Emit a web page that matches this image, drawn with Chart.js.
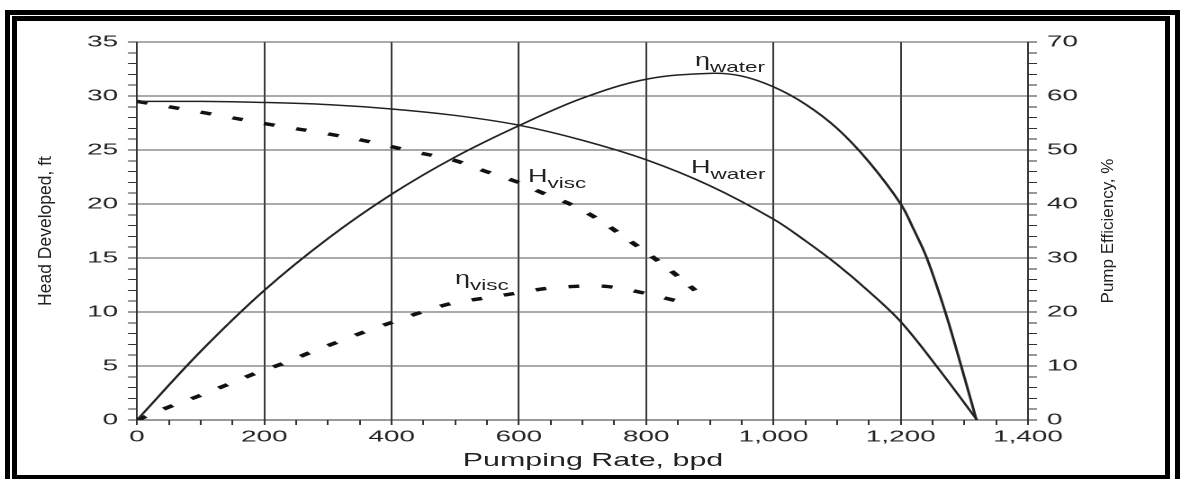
<!DOCTYPE html>
<html><head><meta charset="utf-8">
<script src="https://cdn.jsdelivr.net/npm/chart.js@4.4.1/dist/chart.umd.min.js"></script>
<style>
html,body{margin:0;padding:0;background:#fff;}
#wrap{position:relative;width:1181px;height:479px;overflow:hidden;background:#fff;font-family:"Liberation Sans",Arial,sans-serif;color:#222;}
#cbox{position:absolute;left:0;top:0;width:656px;height:479px;transform-origin:0 0;transform:scaleX(1.800305);}
.frame{position:absolute;border:5px solid #000;box-sizing:border-box;}
.title{position:absolute;white-space:nowrap;line-height:1;}
.lbl{position:absolute;white-space:nowrap;line-height:1;font-size:18px;transform-origin:0 0;transform:scaleX(1.5);}
.lbl .s{font-size:15px;vertical-align:-5.5px;}
</style></head>
<body><div id="wrap">
<div id="cbox"><canvas id="c" width="656" height="479" style="width:656px;height:479px"></canvas></div>
<div class="frame" style="left:5px;top:10px;width:1175px;height:490px"></div>
<div class="frame" style="left:12px;top:16px;width:1158px;height:464px"></div>
<div class="title" style="left:46px;top:231px;font-size:17.5px;transform:translate(-50%,-50%) rotate(-90deg)">Head Developed, ft</div>
<div class="title" style="left:1107px;top:230.5px;font-size:17px;transform:translate(-50%,-50%) rotate(-90deg)">Pump Efficiency, %</div>
<div class="title" style="left:593px;top:460px;font-size:18.5px;transform:translate(-50%,-50%) scaleX(1.645)">Pumping Rate, bpd</div>
<div class="lbl" style="left:695px;top:51px">η<span class="s">water</span></div>
<div class="lbl" style="left:690.5px;top:157.5px">H<span class="s">water</span></div>
<div class="lbl" style="left:528px;top:166.5px">H<span class="s">visc</span></div>
<div class="lbl" style="left:455px;top:269px">η<span class="s">visc</span></div>
</div>
<script>
const SX = 1181 / 656;

// Head, water (ft) vs pumping rate (bpd)
const hWaterRate = [0, 100, 200, 300, 400, 500, 600, 700, 800, 900, 1000, 1050, 1100, 1150, 1200, 1260, 1320];
const hWaterHead = [29.5, 29.5, 29.4, 29.2, 28.8, 28.2, 27.3, 25.9, 24.1, 21.7, 18.6, 16.6, 14.4, 11.9, 9.1, 4.7, 0];

// Head, viscous (ft)
const hViscRate = [0, 110, 215, 300, 371, 434, 497, 544, 596, 636, 680, 727, 769, 803, 835, 877];
const hViscHead = [29.5, 28.4, 27.3, 26.5, 25.7, 24.85, 24.07, 23.1, 22.07, 21.05, 20.0, 18.5, 16.8, 15.4, 14.0, 12.0];

// Efficiency, water (%)
const eWaterRate = [0, 100, 200, 300, 400, 500, 600, 700, 800, 900, 950, 1000, 1050, 1100, 1150, 1200, 1220, 1241, 1270, 1295, 1319];
const eWaterEff  = [0, 12.7, 24.0, 33.6, 41.8, 48.7, 54.5, 59.6, 63.1, 64.2, 63.7, 61.7, 58.5, 54.0, 47.8, 40, 35.4, 30, 20, 10, 0];

// Efficiency, viscous (%)
const eViscRate = [0, 52, 96, 141, 185, 230, 274, 319, 366, 411, 445, 494, 547, 597, 646, 701, 741, 793, 843, 860];
const eViscEff  = [0, 2.5, 4.4, 6.5, 8.6, 10.5, 12.6, 14.6, 16.7, 18.5, 19.9, 21.6, 22.6, 23.5, 24.4, 24.8, 24.7, 23.6, 22.2, 21.8];

const xTickLabels = ['0', '200', '400', '600', '800', '1,000', '1,200', '1,400'];

function pts(xs, ys) { return xs.map((x, i) => ({ x: x, y: ys[i] })); }

const FONT = '"Liberation Sans", Arial, sans-serif';
const solid = { borderColor: '#222', borderWidth: 1.5, pointRadius: 0, fill: false, tension: 0.35 };
const dashed = { borderColor: '#111', borderWidth: 3.4, borderDash: [6, 12.5], pointRadius: 0, fill: false, tension: 0.35 };

new Chart(document.getElementById('c'), {
  type: 'line',
  data: {
    datasets: [
      Object.assign({ label: 'H water', data: pts(hWaterRate, hWaterHead), yAxisID: 'y' }, solid),
      Object.assign({ label: 'η water', data: pts(eWaterRate, eWaterEff), yAxisID: 'y1' }, solid),
      Object.assign({ label: 'H visc', data: pts(hViscRate, hViscHead), yAxisID: 'y' }, dashed),
      Object.assign({ label: 'η visc', data: pts(eViscRate, eViscEff), yAxisID: 'y1' }, dashed)
    ]
  },
  options: {
    responsive: false,
    maintainAspectRatio: false,
    animation: false,
    devicePixelRatio: 2,
    layout: { padding: { top: 42, left: 0, right: 0, bottom: 0 } },
    plugins: { legend: { display: false }, tooltip: { enabled: false } },
    scales: {
      x: {
        type: 'linear', min: 0, max: 1400,
        ticks: {
          stepSize: 50, autoSkip: false, maxRotation: 0, minRotation: 0, padding: 3,
          color: '#222', font: { family: FONT, size: 15.5 },
          callback: v => (v % 200 === 0 ? xTickLabels[v / 200] : '')
        },
        grid: {
          color: c => (c.tick && c.tick.value % 200 === 0 ? '#3a3a3a' : 'rgba(0,0,0,0)'),
          lineWidth: 1, tickColor: '#333', tickLength: 5
        },
        border: { display: true, color: '#333', width: 1 },
        afterFit: s => { s.height = 59; }
      },
      y: {
        position: 'left', min: 0, max: 35,
        ticks: {
          stepSize: 1, autoSkip: false, padding: 5.5,
          color: '#222', font: { family: FONT, size: 15.5 },
          callback: v => (v % 5 === 0 ? String(v) : '')
        },
        grid: {
          color: c => (c.tick && c.tick.value % 5 === 0 ? '#555' : 'rgba(0,0,0,0)'),
          lineWidth: 1, tickColor: '#333', tickLength: 5
        },
        border: { display: true, color: '#333', width: 1 },
        afterFit: s => { s.width = 137 / SX; }
      },
      y1: {
        position: 'right', min: 0, max: 70,
        ticks: {
          stepSize: 2, autoSkip: false, padding: 5.5,
          color: '#222', font: { family: FONT, size: 15.5 },
          callback: v => (v % 10 === 0 ? String(v) : '')
        },
        grid: { drawOnChartArea: false, color: '#333', tickColor: '#333', tickLength: 5 },
        border: { display: true, color: '#333', width: 1 },
        afterFit: s => { s.width = 153 / SX; }
      }
    }
  }
});
</script>
</body></html>
